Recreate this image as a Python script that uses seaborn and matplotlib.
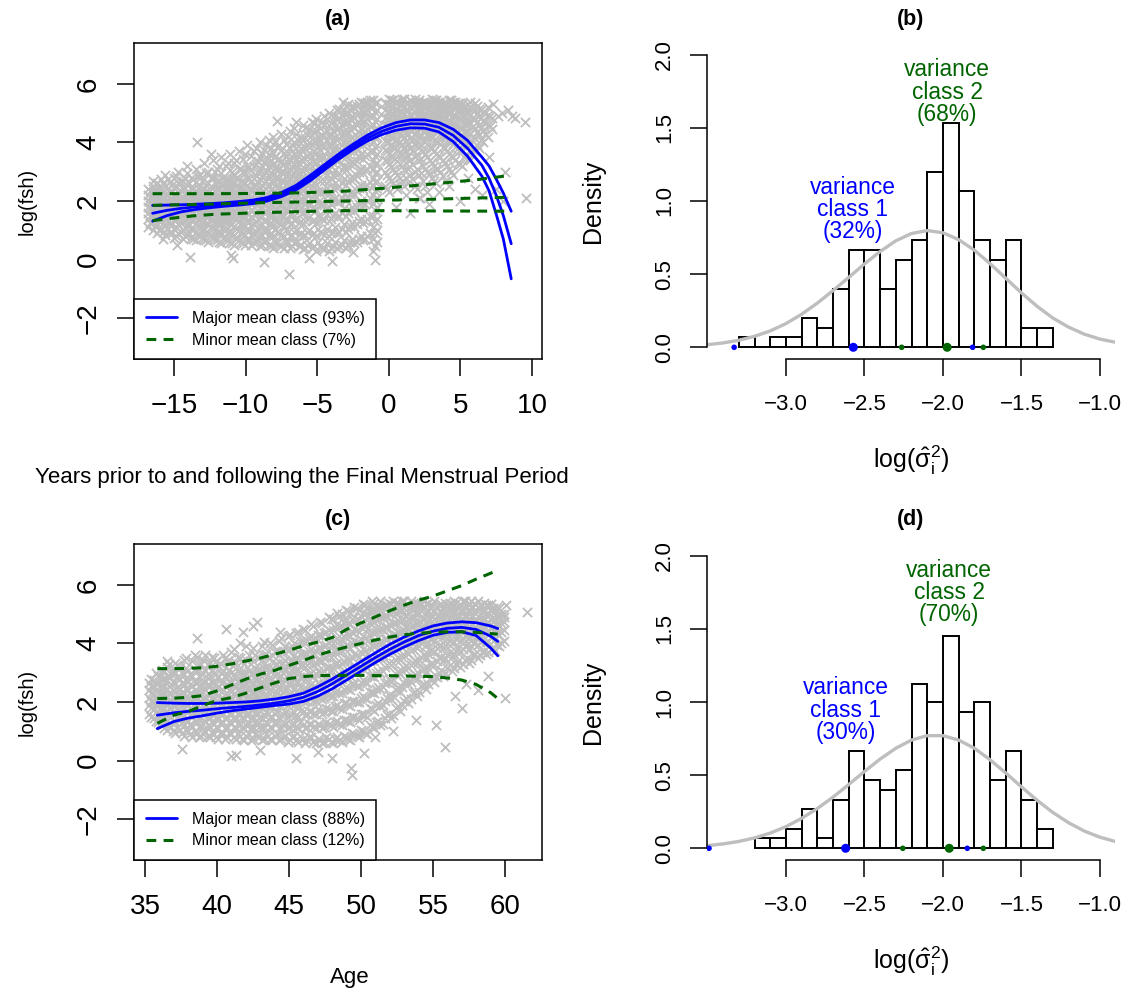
import numpy as np
import pandas as pd
import matplotlib
matplotlib.use("Agg")
import matplotlib.pyplot as plt
import seaborn as sns

# ------------------------------------------------------------------ data
# Panel (a): scatter cloud (x = years from FMP; y values read per x column)
cloud_a_txt = """
-16.8: 1.1 1.4 1.6 1.8 2.0 2.2 2.4
-16.5: 1.0 1.3 1.5 1.7 1.9 2.1 2.3 2.5
-16.2: 0.9 1.2 1.45 1.65 1.85 2.05 2.3 2.6
-15.9: 1.05 1.3 1.55 1.75 1.95 2.15 2.4 2.75
-15.6: 0.85 1.15 1.4 1.6 1.8 2.0 2.25 2.5 2.9
-15.3: 0.95 1.25 1.5 1.7 1.9 2.1 2.35 2.65
-15.0: 0.75 1.05 1.35 1.6 1.8 2.0 2.2 2.45 2.8
-14.7: 0.9 1.2 1.45 1.65 1.85 2.05 2.3 2.6 3.0
-14.4: 0.7 1.0 1.3 1.55 1.75 1.95 2.15 2.4 2.7
-14.1: 0.85 1.15 1.4 1.6 1.8 2.0 2.25 2.55 2.95 3.2
-13.8: 0.75 1.05 1.35 1.6 1.8 2.0 2.2 2.45 2.8
-13.5: 0.65 0.95 1.25 1.5 1.7 1.9 2.1 2.35 2.65 3.1
-13.2: 0.8 1.1 1.4 1.65 1.85 2.05 2.25 2.5 2.9
-12.9: 0.7 1.0 1.3 1.55 1.75 1.95 2.15 2.4 2.75 3.3
-12.6: 0.6 0.9 1.2 1.45 1.7 1.9 2.1 2.35 2.6 3.0
-12.3: 0.75 1.05 1.35 1.6 1.8 2.0 2.2 2.45 2.8 3.4
-12.0: 0.65 0.95 1.25 1.5 1.75 1.95 2.15 2.4 2.7 3.1
-11.7: 0.55 0.9 1.2 1.45 1.7 1.9 2.1 2.35 2.6 2.95 3.5
-11.4: 0.7 1.0 1.3 1.55 1.8 2.0 2.2 2.45 2.75 3.2
-11.1: 0.6 0.95 1.25 1.5 1.75 1.95 2.15 2.4 2.7 3.05 3.6
-10.8: 0.5 0.85 1.15 1.45 1.7 1.9 2.1 2.35 2.6 2.9 3.3
-10.5: 0.65 1.0 1.3 1.55 1.8 2.0 2.2 2.45 2.75 3.1 3.7
-10.2: 0.55 0.9 1.2 1.5 1.75 1.95 2.15 2.4 2.65 3.0 3.45
-9.9: 0.7 1.05 1.35 1.6 1.85 2.05 2.25 2.5 2.8 3.2 3.9
-9.6: 0.5 0.85 1.15 1.45 1.7 1.95 2.15 2.4 2.7 3.05 3.55
-9.3: 0.6 0.95 1.3 1.6 1.85 2.05 2.3 2.55 2.85 3.25 3.8
-9.0: 0.45 0.8 1.15 1.45 1.75 2.0 2.2 2.45 2.75 3.1 3.5 4.0
-8.7: 0.6 0.95 1.3 1.6 1.85 2.1 2.35 2.6 2.9 3.3 3.75
-8.4: 0.5 0.85 1.2 1.5 1.8 2.05 2.3 2.55 2.85 3.2 3.6 4.1
-8.1: 0.4 0.8 1.15 1.5 1.8 2.05 2.3 2.6 2.9 3.25 3.65 4.2
-7.8: 0.55 0.95 1.3 1.65 1.95 2.2 2.45 2.75 3.05 3.4 3.85
-7.5: 0.45 0.85 1.2 1.55 1.85 2.15 2.4 2.7 3.0 3.35 3.75 4.3
-7.2: 0.6 1.0 1.35 1.7 2.0 2.3 2.55 2.85 3.15 3.5 3.95
-6.9: 0.4 0.8 1.2 1.55 1.9 2.2 2.5 2.8 3.1 3.45 3.8 4.4
-6.6: 0.55 0.95 1.35 1.7 2.05 2.35 2.65 2.95 3.25 3.6 4.0 4.5
-6.3: 0.45 0.85 1.25 1.65 2.0 2.35 2.65 2.95 3.3 3.65 4.05
-6.0: 0.35 0.8 1.2 1.6 2.0 2.35 2.7 3.0 3.35 3.7 4.1 4.6
-5.7: 0.5 0.95 1.4 1.8 2.2 2.55 2.9 3.2 3.55 3.9 4.3
-5.4: 0.4 0.85 1.3 1.75 2.15 2.5 2.85 3.2 3.55 3.9 4.25 4.7
-5.1: 0.3 0.8 1.25 1.7 2.15 2.55 2.95 3.3 3.65 4.0 4.4 4.8
-4.8: 0.45 0.95 1.45 1.9 2.3 2.7 3.05 3.4 3.75 4.1 4.5
-4.5: 0.35 0.85 1.35 1.85 2.3 2.7 3.1 3.5 3.85 4.2 4.6 4.9
-4.2: 0.3 0.8 1.3 1.8 2.25 2.7 3.1 3.5 3.9 4.25 4.6 5.0
-3.9: 0.45 0.95 1.5 2.0 2.45 2.9 3.3 3.7 4.05 4.4 4.75
-3.6: 0.4 0.9 1.45 1.95 2.45 2.9 3.35 3.75 4.1 4.45 4.8 5.1
-3.3: 0.5 1.05 1.6 2.1 2.6 3.05 3.5 3.9 4.25 4.6 4.95
-3.0: 0.4 0.95 1.5 2.05 2.55 3.05 3.5 3.9 4.3 4.65 5.0 5.25
-2.7: 0.6 1.15 1.7 2.25 2.75 3.25 3.7 4.1 4.45 4.8 5.1
-2.4: 0.55 1.1 1.65 2.2 2.75 3.25 3.7 4.1 4.5 4.85 5.2
-2.1: 0.7 1.3 1.9 2.45 3.0 3.5 3.95 4.35 4.7 5.0 5.3
-1.8: 0.65 1.25 1.85 2.4 2.95 3.45 3.9 4.3 4.7 5.05 5.35
-1.5: 0.8 1.4 2.0 2.55 3.1 3.6 4.05 4.45 4.8 5.1 5.4
-1.1: 0.3 0.7 1.1 1.5 1.9 2.2 2.5 2.8 3.1 3.4 3.7 4.0 4.3 4.6 4.9 5.2 5.45
-0.95: 0.0 0.45 0.9 1.3 1.7 2.05 2.35 2.65 2.95 3.25 3.55 3.85 4.15 4.45 4.75 5.05 5.35
-0.8: 0.6 1.0 1.4 1.8 2.1 2.4 2.7 3.0 3.3 3.6 3.9 4.2 4.5 4.8 5.1 5.4
-0.3: 2.5 3.0 3.4 3.75 4.05 4.35 4.6 4.85 5.1 5.35
0.0: 2.3 2.8 3.25 3.65 4.0 4.3 4.55 4.8 5.05 5.3 5.5
0.3: 2.6 3.1 3.5 3.85 4.15 4.45 4.7 4.95 5.2 5.45
0.6: 2.4 2.9 3.35 3.75 4.1 4.4 4.65 4.9 5.15 5.4
0.9: 2.7 3.2 3.6 3.95 4.25 4.55 4.8 5.05 5.3 5.5
1.2: 2.2 2.8 3.3 3.7 4.05 4.35 4.6 4.85 5.1 5.35
1.5: 2.9 3.4 3.8 4.15 4.45 4.7 4.95 5.2 5.45
1.8: 2.5 3.0 3.5 3.9 4.25 4.55 4.8 5.05 5.3 5.5
2.1: 2.1 2.9 3.4 3.85 4.2 4.5 4.75 5.0 5.25 5.45
2.4: 2.7 3.2 3.7 4.1 4.4 4.7 4.95 5.2 5.4
2.7: 2.3 3.0 3.5 3.95 4.3 4.6 4.85 5.1 5.35
3.0: 2.8 3.3 3.8 4.2 4.5 4.8 5.05 5.3 5.5
3.3: 2.6 3.1 3.6 4.05 4.4 4.7 4.95 5.2 5.45
3.6: 3.0 3.5 3.95 4.3 4.6 4.9 5.15 5.4
3.9: 2.7 3.3 3.8 4.2 4.55 4.85 5.1 5.35
4.2: 3.1 3.6 4.05 4.4 4.7 5.0 5.25 5.45
4.5: 2.9 3.5 3.95 4.35 4.65 4.95 5.2 5.4
4.8: 3.3 3.8 4.2 4.55 4.85 5.1 5.35
5.1: 3.2 3.7 4.1 4.45 4.75 5.05 5.3
5.4: 3.6 4.05 4.4 4.7 5.0 5.25
5.7: 3.4 3.9 4.3 4.65 4.95 5.2 5.4
6.0: 3.7 4.15 4.5 4.8 5.1 5.35
6.3: 3.8 4.25 4.6 4.9 5.15
6.6: 4.0 4.4 4.75 5.05
6.9: 4.2 4.6 4.95 5.2
7.2: 4.45 4.85
"""
# second, staggered set of columns for panel (a)
cloud_a2_txt = """
-16.65: 1.25 1.5 1.75 1.95 2.15 2.35
-16.35: 1.15 1.4 1.6 1.8 2.0 2.2 2.45
-16.05: 1.0 1.35 1.55 1.75 1.95 2.2 2.45
-15.75: 0.95 1.25 1.5 1.7 1.9 2.1 2.35 2.6
-15.45: 1.05 1.3 1.55 1.75 1.95 2.2 2.45 2.75
-15.15: 0.9 1.2 1.45 1.65 1.85 2.05 2.3 2.55
-14.85: 0.8 1.1 1.4 1.6 1.8 2.0 2.2 2.5 2.85
-14.55: 0.95 1.25 1.5 1.7 1.9 2.1 2.35 2.65
-14.25: 0.8 1.1 1.35 1.6 1.8 2.0 2.2 2.45 2.8
-13.95: 0.9 1.2 1.45 1.65 1.85 2.05 2.3 2.6
-13.65: 0.7 1.0 1.3 1.55 1.75 1.95 2.15 2.4 2.75
-13.35: 0.85 1.15 1.4 1.6 1.8 2.0 2.2 2.45 2.85
-13.05: 0.75 1.05 1.35 1.6 1.8 2.0 2.2 2.45 2.7
-12.75: 0.65 0.95 1.25 1.5 1.7 1.9 2.1 2.3 2.55 2.95
-12.45: 0.8 1.1 1.4 1.65 1.85 2.05 2.25 2.5 2.8
-12.15: 0.7 1.0 1.3 1.55 1.75 1.95 2.15 2.35 2.6 3.0
-11.85: 0.6 0.95 1.25 1.5 1.75 1.95 2.15 2.4 2.7 3.2
-11.55: 0.75 1.05 1.35 1.6 1.85 2.05 2.25 2.5 2.8
-11.25: 0.65 0.95 1.3 1.55 1.8 2.0 2.2 2.45 2.75 3.3
-10.95: 0.55 0.9 1.2 1.5 1.75 1.95 2.15 2.4 2.65 3.0
-10.65: 0.7 1.05 1.35 1.6 1.85 2.05 2.25 2.5 2.8 3.4
-10.35: 0.6 0.95 1.25 1.55 1.8 2.0 2.2 2.45 2.7 3.1
-10.05: 0.5 0.85 1.15 1.45 1.7 1.9 2.1 2.35 2.6 2.95 3.6
-9.75: 0.65 1.0 1.3 1.55 1.8 2.0 2.2 2.45 2.75 3.15
-9.45: 0.55 0.9 1.25 1.55 1.8 2.0 2.25 2.5 2.8 3.2 3.7
-9.15: 0.7 1.05 1.4 1.65 1.9 2.1 2.35 2.6 2.95 3.35
-8.85: 0.5 0.85 1.2 1.5 1.8 2.05 2.3 2.55 2.85 3.2 3.65
-8.55: 0.65 1.0 1.35 1.65 1.9 2.15 2.4 2.7 3.0 3.4 3.9
-8.25: 0.45 0.9 1.25 1.6 1.9 2.15 2.4 2.7 3.0 3.4 3.8
-7.95: 0.6 1.0 1.35 1.7 2.0 2.25 2.5 2.8 3.1 3.5 4.0
-7.65: 0.5 0.9 1.25 1.6 1.9 2.2 2.5 2.8 3.1 3.45 3.9
-7.35: 0.4 0.8 1.15 1.5 1.8 2.1 2.4 2.7 3.0 3.3 3.65 4.1
-7.05: 0.55 0.95 1.35 1.7 2.05 2.35 2.65 2.95 3.3 3.65 4.2
-6.75: 0.45 0.85 1.25 1.6 1.95 2.25 2.55 2.85 3.15 3.5 3.9
-6.45: 0.6 1.0 1.4 1.8 2.15 2.5 2.8 3.1 3.45 3.8 4.3
-6.15: 0.5 0.9 1.3 1.75 2.1 2.45 2.8 3.1 3.45 3.8 4.2
-5.85: 0.4 0.85 1.3 1.7 2.1 2.45 2.8 3.1 3.45 3.8 4.15 4.5
-5.55: 0.55 1.0 1.45 1.85 2.25 2.6 2.95 3.3 3.65 4.0 4.45
-5.25: 0.45 0.9 1.35 1.8 2.25 2.65 3.0 3.35 3.7 4.05 4.35 4.65
-4.95: 0.6 1.05 1.5 1.95 2.35 2.75 3.15 3.5 3.85 4.2 4.6
-4.65: 0.4 0.9 1.4 1.9 2.35 2.75 3.15 3.55 3.9 4.25 4.7
-4.35: 0.55 1.05 1.55 2.0 2.45 2.9 3.3 3.7 4.05 4.4 4.8
-4.05: 0.4 0.9 1.4 1.9 2.35 2.8 3.2 3.6 3.95 4.3 4.65 4.95
-3.75: 0.6 1.1 1.6 2.1 2.6 3.05 3.45 3.85 4.2 4.55 4.9
-3.45: 0.45 0.95 1.5 2.0 2.5 2.95 3.4 3.8 4.15 4.5 4.85 5.15
-3.15: 0.65 1.2 1.75 2.25 2.75 3.2 3.65 4.05 4.4 4.75 5.1
-2.85: 0.5 1.05 1.6 2.15 2.65 3.15 3.6 4.0 4.35 4.7 5.0 5.3
-2.55: 0.7 1.25 1.8 2.35 2.85 3.35 3.8 4.2 4.55 4.9 5.25
-2.25: 0.6 1.2 1.8 2.35 2.85 3.35 3.8 4.2 4.6 4.95 5.25
-1.95: 0.8 1.4 2.0 2.55 3.1 3.6 4.05 4.45 4.8 5.1 5.4
-1.65: 0.7 1.3 1.9 2.5 3.05 3.55 4.0 4.4 4.75 5.05 5.35
-1.3: 0.9 1.5 2.1 2.65 3.2 3.7 4.15 4.55 4.9 5.2 5.45
-0.15: 2.4 2.9 3.35 3.7 4.0 4.3 4.55 4.8 5.05 5.3
0.15: 2.7 3.15 3.55 3.9 4.2 4.45 4.7 4.95 5.2 5.45
0.45: 2.5 3.0 3.45 3.8 4.1 4.4 4.65 4.9 5.15 5.4
0.75: 2.8 3.25 3.65 4.0 4.3 4.55 4.8 5.05 5.3
1.05: 2.5 3.05 3.5 3.85 4.2 4.5 4.75 5.0 5.25 5.5
1.35: 2.6 3.1 3.55 3.95 4.3 4.6 4.85 5.1 5.35
1.65: 2.75 3.25 3.7 4.05 4.4 4.65 4.9 5.15 5.4
1.95: 2.4 3.1 3.6 4.0 4.35 4.65 4.9 5.15 5.4
2.25: 2.95 3.45 3.9 4.25 4.55 4.85 5.1 5.35
2.55: 2.5 3.1 3.6 4.0 4.35 4.65 4.9 5.15 5.4
2.85: 2.95 3.4 3.85 4.25 4.55 4.85 5.1 5.35
3.15: 2.7 3.2 3.7 4.1 4.45 4.75 5.0 5.25 5.45
3.45: 3.1 3.55 4.0 4.35 4.65 4.95 5.2 5.4
3.75: 2.85 3.4 3.85 4.25 4.6 4.85 5.1 5.35
4.05: 3.2 3.7 4.1 4.45 4.75 5.05 5.3
4.35: 3.0 3.55 4.0 4.4 4.7 5.0 5.25 5.45
4.65: 3.4 3.85 4.25 4.6 4.9 5.15 5.4
4.95: 3.25 3.75 4.15 4.5 4.8 5.1 5.35
5.25: 3.5 3.95 4.35 4.65 4.95 5.2
5.55: 3.45 3.95 4.35 4.7 5.0 5.3
5.85: 3.75 4.2 4.55 4.85 5.15
6.15: 3.9 4.35 4.7 5.0 5.25
6.45: 4.1 4.5 4.85 5.1
6.75: 4.3 4.7 5.0
7.05: 4.55 4.9
"""
outlier_a_x = [-16.5, -15.8, -14.8, -13.4, -13.9, -12.4, -11.0, -10.9, -8.7, -7.8, -7.0,
               -6.5, -5.6, -4.0, -3.2, -2.5, 0.5, 1.5, 2.2, 2.8, 3.5, 4.2, 5.0, 5.5, 6.0,
               6.5, 7.0, 7.3, 7.6, 7.9, 8.1, 8.3, 8.6, 8.8, 9.5, 9.6, 8.0, 7.5]
outlier_a_y = [2.7, 0.7, 0.5, 4.0, 0.07, 3.6, 0.15, 0.05, -0.1, 4.75, -0.5,
               4.7, 0.05, -0.05, 5.4, 0.25, 1.8, 1.6, 2.1, 1.9, 2.3, 2.5, 2.0, 2.8, 2.4,
               2.2, 3.5, 5.3, 4.9, 5.0, 3.0, 5.1, 4.9, 4.85, 4.7, 2.1, 2.0, 2.4]

# Panel (c): scatter cloud (x = age)
cloud_c_txt = """
35.3: 1.6 1.9 2.15 2.4 2.65
35.6: 1.45 1.75 2.0 2.25 2.5 2.75
35.9: 1.3 1.6 1.85 2.1 2.35 2.6 2.9
36.2: 1.2 1.5 1.75 2.0 2.25 2.5 2.8 3.1
36.5: 1.05 1.4 1.7 1.95 2.2 2.45 2.75 3.2
36.8: 1.15 1.5 1.8 2.05 2.3 2.6 2.95
37.1: 0.95 1.3 1.6 1.85 2.1 2.35 2.65 3.0 3.35
37.4: 1.05 1.4 1.7 1.95 2.2 2.45 2.8 3.2
37.7: 0.85 1.2 1.55 1.8 2.05 2.3 2.6 2.95 3.45
38.0: 1.0 1.35 1.65 1.9 2.15 2.4 2.7 3.1
38.3: 0.8 1.15 1.5 1.75 2.0 2.25 2.55 2.9 3.4
38.6: 0.95 1.3 1.6 1.85 2.1 2.35 2.65 3.05 3.55
38.9: 0.85 1.2 1.5 1.8 2.05 2.3 2.6 2.95 3.3
39.2: 1.0 1.35 1.65 1.9 2.15 2.4 2.7 3.1 3.6
39.5: 0.8 1.15 1.45 1.75 2.0 2.25 2.55 2.9 3.35
39.8: 0.9 1.25 1.55 1.85 2.1 2.35 2.65 3.0 3.5
40.1: 0.75 1.1 1.45 1.75 2.0 2.25 2.5 2.85 3.25
40.4: 0.95 1.3 1.6 1.9 2.15 2.4 2.7 3.05 3.6
40.7: 0.8 1.15 1.5 1.8 2.05 2.3 2.6 2.95 3.4
41.0: 0.9 1.25 1.55 1.85 2.1 2.35 2.65 3.0 3.7
41.3: 0.75 1.1 1.45 1.75 2.0 2.25 2.55 2.9 3.35
41.6: 0.85 1.2 1.55 1.85 2.1 2.35 2.65 3.0 3.5 4.0
41.9: 0.7 1.1 1.45 1.75 2.0 2.3 2.6 2.95 3.3
42.2: 0.9 1.25 1.6 1.9 2.15 2.4 2.7 3.05 3.6
42.5: 0.75 1.15 1.5 1.8 2.1 2.35 2.65 3.0 3.4 3.85
42.8: 0.85 1.2 1.55 1.85 2.15 2.45 2.75 3.1 3.55
43.1: 0.7 1.1 1.45 1.8 2.1 2.4 2.7 3.05 3.45 3.9
43.4: 0.9 1.3 1.65 1.95 2.25 2.55 2.85 3.2 3.65
43.7: 0.75 1.15 1.5 1.85 2.15 2.45 2.75 3.1 3.5 4.0
44.0: 0.85 1.25 1.6 1.95 2.25 2.55 2.9 3.25 3.7
44.3: 0.7 1.1 1.5 1.85 2.2 2.5 2.85 3.2 3.6 4.1
44.6: 0.8 1.2 1.6 1.95 2.3 2.65 3.0 3.35 3.75
44.9: 0.65 1.1 1.5 1.9 2.25 2.6 2.95 3.3 3.75 4.25
45.2: 0.8 1.2 1.6 2.0 2.35 2.7 3.05 3.45 3.9
45.5: 0.7 1.15 1.55 1.95 2.35 2.7 3.1 3.5 3.95 4.35
45.8: 0.85 1.3 1.7 2.1 2.5 2.85 3.25 3.65 4.1
46.1: 0.6 1.1 1.55 2.0 2.4 2.8 3.2 3.6 4.0 4.45
46.4: 0.8 1.25 1.7 2.15 2.55 2.95 3.35 3.75 4.2
46.7: 0.65 1.15 1.6 2.05 2.5 2.9 3.3 3.7 4.15 4.6
47.0: 0.75 1.25 1.75 2.2 2.65 3.05 3.45 3.85 4.3
47.3: 0.6 1.1 1.6 2.1 2.55 3.0 3.4 3.8 4.25 4.7
47.6: 0.8 1.3 1.8 2.3 2.75 3.15 3.55 3.95 4.4
47.9: 0.65 1.2 1.7 2.2 2.7 3.1 3.55 3.95 4.4 4.85
48.2: 0.75 1.3 1.85 2.35 2.85 3.3 3.7 4.1 4.55
48.5: 0.7 1.25 1.8 2.3 2.8 3.25 3.7 4.1 4.55 4.95
48.8: 0.85 1.4 1.95 2.45 2.95 3.4 3.85 4.25 4.7
49.1: 0.75 1.35 1.9 2.45 2.95 3.45 3.9 4.3 4.7 5.1
49.4: 0.95 1.5 2.05 2.6 3.1 3.55 4.0 4.4 4.85
49.7: 0.85 1.45 2.0 2.55 3.1 3.6 4.05 4.45 4.85 5.2
50.0: 1.05 1.6 2.15 2.7 3.2 3.7 4.15 4.55 4.95
50.3: 0.95 1.55 2.15 2.7 3.25 3.75 4.2 4.6 5.0 5.3
50.6: 1.2 1.8 2.35 2.9 3.4 3.85 4.3 4.7 5.1
50.9: 1.1 1.7 2.3 2.85 3.4 3.9 4.35 4.75 5.1 5.4
51.2: 1.35 1.95 2.5 3.05 3.55 4.0 4.45 4.85 5.2
51.5: 1.25 1.9 2.5 3.05 3.6 4.05 4.5 4.9 5.25
51.8: 1.55 2.15 2.7 3.25 3.7 4.15 4.55 4.95 5.3
52.1: 1.45 2.1 2.7 3.25 3.75 4.2 4.6 5.0 5.35
52.4: 1.8 2.4 2.95 3.45 3.9 4.3 4.7 5.05 5.4
52.7: 1.7 2.35 2.95 3.45 3.95 4.35 4.75 5.1
53.0: 2.05 2.65 3.15 3.6 4.05 4.45 4.85 5.2 5.45
53.3: 1.95 2.6 3.15 3.65 4.1 4.5 4.85 5.2
53.6: 2.3 2.85 3.35 3.8 4.2 4.6 4.95 5.3
53.9: 2.2 2.8 3.35 3.85 4.25 4.65 5.0 5.35
54.2: 2.55 3.1 3.55 4.0 4.4 4.75 5.1 5.4
54.5: 2.45 3.0 3.5 3.95 4.35 4.7 5.05 5.35
54.8: 2.8 3.3 3.75 4.15 4.5 4.85 5.2
55.1: 2.7 3.25 3.7 4.1 4.5 4.85 5.15 5.45
55.4: 3.0 3.5 3.9 4.3 4.65 4.95 5.3
55.7: 2.9 3.4 3.85 4.25 4.6 4.95 5.25
56.0: 3.15 3.6 4.0 4.35 4.7 5.0 5.3
56.3: 3.05 3.55 4.0 4.4 4.75 5.05 5.35
56.6: 3.3 3.75 4.15 4.5 4.8 5.1 5.4
56.9: 3.2 3.7 4.1 4.45 4.8 5.1 5.35
57.2: 3.45 3.9 4.25 4.6 4.9 5.2 5.45
57.5: 3.35 3.8 4.2 4.55 4.85 5.15 5.4
57.8: 3.6 4.0 4.35 4.65 4.95 5.25
58.1: 3.5 3.95 4.3 4.65 4.95 5.25 5.45
58.4: 3.7 4.1 4.45 4.75 5.05 5.3
58.7: 3.65 4.05 4.4 4.7 5.0 5.3
59.0: 3.8 4.2 4.5 4.8 5.1 5.35
59.3: 3.75 4.15 4.5 4.8 5.1
59.6: 3.9 4.3 4.6 4.9 5.2
59.9: 4.1 4.45 4.75 5.0
"""
# second, staggered set of columns for panel (c)
cloud_c2_txt = """
35.45: 1.5 1.8 2.05 2.3 2.55 2.8
35.75: 1.35 1.65 1.9 2.15 2.4 2.65 3.0
36.05: 1.25 1.55 1.8 2.05 2.3 2.55 2.85
36.35: 1.1 1.45 1.75 2.0 2.25 2.5 2.8 3.05
36.65: 1.2 1.55 1.8 2.05 2.3 2.55 2.9 3.3
36.95: 1.0 1.35 1.65 1.9 2.15 2.4 2.7 3.1
37.25: 1.1 1.45 1.75 2.0 2.25 2.5 2.85 3.25
37.55: 0.95 1.3 1.6 1.85 2.1 2.35 2.65 3.0
37.85: 1.05 1.4 1.7 1.95 2.2 2.45 2.75 3.15 3.5
38.15: 0.9 1.25 1.55 1.8 2.05 2.3 2.6 2.95
38.45: 1.0 1.35 1.65 1.9 2.15 2.4 2.7 3.1 3.6
38.75: 0.8 1.15 1.45 1.75 2.0 2.25 2.55 2.9 3.25
39.05: 0.9 1.25 1.55 1.85 2.1 2.35 2.65 3.0 3.45
39.35: 0.85 1.2 1.5 1.8 2.05 2.3 2.6 2.95 3.3
39.65: 0.95 1.3 1.6 1.9 2.15 2.4 2.7 3.05 3.55
39.95: 0.8 1.15 1.5 1.8 2.05 2.3 2.6 2.95 3.4
40.25: 0.9 1.25 1.55 1.85 2.1 2.35 2.65 3.0 3.3
40.55: 0.75 1.1 1.45 1.75 2.0 2.25 2.55 2.9 3.5
40.85: 0.95 1.3 1.6 1.9 2.15 2.4 2.7 3.1 3.45
41.15: 0.8 1.15 1.5 1.8 2.05 2.3 2.6 2.95 3.3 3.8
41.45: 0.9 1.25 1.6 1.9 2.15 2.4 2.7 3.05 3.55
41.75: 0.75 1.15 1.5 1.8 2.05 2.3 2.6 2.95 3.4
42.05: 0.85 1.2 1.55 1.85 2.1 2.35 2.65 3.0 3.45 3.9
42.35: 0.7 1.1 1.45 1.75 2.05 2.3 2.6 2.95 3.3
42.65: 0.9 1.3 1.65 1.95 2.25 2.5 2.8 3.15 3.6
42.95: 0.8 1.15 1.5 1.85 2.15 2.45 2.75 3.1 3.5
43.25: 0.75 1.15 1.55 1.9 2.2 2.5 2.8 3.15 3.6 4.05
43.55: 0.85 1.25 1.6 1.9 2.2 2.5 2.8 3.15 3.55
43.85: 0.7 1.1 1.5 1.85 2.2 2.5 2.8 3.15 3.6 3.95
44.15: 0.9 1.3 1.65 2.0 2.3 2.6 2.95 3.3 3.75
44.45: 0.75 1.15 1.55 1.9 2.25 2.6 2.9 3.3 3.7 4.2
44.75: 0.85 1.25 1.65 2.05 2.4 2.75 3.1 3.45 3.9
45.05: 0.7 1.15 1.55 1.95 2.3 2.65 3.0 3.4 3.85 4.3
45.35: 0.85 1.25 1.65 2.05 2.45 2.8 3.2 3.6 4.0
45.65: 0.65 1.1 1.5 1.9 2.3 2.7 3.1 3.5 3.9 4.4
45.95: 0.75 1.2 1.65 2.05 2.45 2.85 3.25 3.65 4.1 4.5
46.25: 0.7 1.15 1.6 2.05 2.45 2.85 3.25 3.65 4.1
46.55: 0.8 1.25 1.7 2.15 2.6 3.0 3.4 3.8 4.25 4.65
46.85: 0.6 1.1 1.6 2.05 2.5 2.95 3.35 3.75 4.2
47.15: 0.7 1.2 1.7 2.15 2.6 3.0 3.4 3.85 4.3 4.75
47.45: 0.65 1.15 1.65 2.15 2.6 3.05 3.5 3.9 4.35
47.75: 0.75 1.25 1.75 2.25 2.75 3.2 3.6 4.0 4.45 4.9
48.05: 0.6 1.15 1.7 2.2 2.7 3.15 3.6 4.0 4.45 4.85
48.35: 0.8 1.35 1.9 2.4 2.9 3.35 3.8 4.2 4.65 5.05
48.65: 0.65 1.2 1.75 2.3 2.8 3.3 3.75 4.15 4.6 5.0
48.95: 0.8 1.4 1.95 2.5 3.0 3.5 3.95 4.35 4.8 5.15
49.25: 0.7 1.3 1.85 2.4 2.9 3.4 3.85 4.25 4.65 5.05
49.55: 0.9 1.5 2.05 2.6 3.15 3.65 4.1 4.5 4.9 5.25
49.85: 0.8 1.4 2.0 2.55 3.05 3.55 4.0 4.4 4.8 5.15
50.15: 1.0 1.6 2.2 2.75 3.3 3.8 4.25 4.65 5.05 5.35
50.45: 0.9 1.5 2.1 2.65 3.15 3.65 4.1 4.5 4.9 5.25
50.75: 1.15 1.75 2.35 2.9 3.45 3.95 4.4 4.8 5.15 5.45
51.05: 1.3 1.9 2.45 3.0 3.5 3.95 4.4 4.8 5.15
51.35: 1.2 1.85 2.45 3.0 3.55 4.05 4.5 4.9 5.25 5.45
51.65: 1.45 2.05 2.65 3.2 3.7 4.15 4.55 4.95 5.3
51.95: 1.6 2.25 2.8 3.35 3.8 4.25 4.65 5.05 5.4
52.25: 1.55 2.2 2.8 3.35 3.85 4.3 4.7 5.1 5.45
52.55: 1.85 2.5 3.05 3.55 4.0 4.4 4.8 5.15 5.4
52.85: 1.9 2.5 3.05 3.55 4.0 4.4 4.8 5.15 5.45
53.15: 2.15 2.75 3.25 3.75 4.2 4.6 4.95 5.3
53.45: 2.1 2.7 3.25 3.75 4.15 4.55 4.9 5.25 5.45
53.75: 2.35 2.95 3.45 3.9 4.3 4.7 5.05 5.35
54.05: 2.35 2.95 3.45 3.9 4.3 4.7 5.05 5.35
54.35: 2.6 3.15 3.65 4.1 4.5 4.85 5.2 5.45
54.65: 2.6 3.15 3.65 4.05 4.45 4.8 5.15 5.4
54.95: 2.85 3.35 3.8 4.2 4.6 4.95 5.3
55.25: 2.85 3.4 3.85 4.25 4.6 4.95 5.25
55.55: 3.1 3.55 3.95 4.35 4.7 5.05 5.35
55.85: 3.0 3.5 3.95 4.35 4.7 5.05 5.4
56.15: 3.25 3.7 4.1 4.45 4.8 5.1 5.4
56.45: 3.15 3.65 4.05 4.45 4.8 5.15 5.45
56.75: 3.4 3.85 4.25 4.6 4.9 5.2
57.05: 3.3 3.8 4.2 4.55 4.85 5.15 5.45
57.35: 3.5 3.95 4.3 4.65 4.95 5.25
57.65: 3.45 3.9 4.3 4.65 4.95 5.25 5.45
57.95: 3.65 4.05 4.4 4.75 5.05 5.35
58.25: 3.6 4.05 4.4 4.7 5.0 5.3
58.55: 3.75 4.15 4.5 4.8 5.1 5.4
58.85: 3.7 4.1 4.45 4.75 5.05 5.3
59.15: 3.85 4.25 4.6 4.9 5.2
59.45: 3.95 4.35 4.65 4.95 5.25
59.75: 4.0 4.4 4.7 5.0
"""
outlier_c_x = [36.5, 38.6, 40.6, 41.8, 42.5, 42.8, 44.4, 37.6, 41.0, 41.3, 43.0, 45.5, 47.0,
               48.0, 49.3, 49.4, 50.2, 51.0, 52.2, 53.8, 55.2, 55.8, 56.5, 57.0, 57.3,
               58.1, 58.8, 60.0, 61.5, 60.1, 59.9]
outlier_c_y = [3.4, 4.2, 4.5, 4.4, 4.6, 4.75, 4.4, 0.4, 0.15, 0.2, 0.35, 0.1, 0.3,
               0.1, -0.25, -0.5, 0.25, 0.8, 1.0, 1.4, 1.2, 0.45, 2.2, 1.8, 2.6,
               2.4, 2.9, 2.15, 5.07, 5.3, 4.9]

# Panel (a) fitted curves
ka_x = [-16.5, -15.5, -14.5, -13.5, -12.5, -11.5, -10.5, -9.5, -8.5, -7.5, -6.5, -5.5,
        -4.5, -3.5, -2.5, -1.5, -0.5, 0.5, 1.5, 2.5, 3.5, 4.5, 5.5, 6.5, 7.0, 7.5, 8.0, 8.55]
major_a_mid = [1.58, 1.68, 1.75, 1.80, 1.84, 1.88, 1.92, 1.97, 2.06, 2.22, 2.45, 2.78,
               3.15, 3.52, 3.85, 4.15, 4.38, 4.55, 4.64, 4.63, 4.52, 4.24, 3.80, 3.22,
               2.78, 2.20, 1.50, 0.54]
major_a_up = [1.85, 1.86, 1.87, 1.89, 1.91, 1.94, 1.98, 2.03, 2.12, 2.29, 2.53, 2.87,
              3.24, 3.61, 3.94, 4.25, 4.50, 4.68, 4.77, 4.77, 4.68, 4.45, 4.07, 3.50,
              3.20, 2.75, 2.27, 1.65]
major_a_lo = [1.31, 1.50, 1.63, 1.71, 1.77, 1.82, 1.86, 1.91, 2.00, 2.15, 2.37, 2.69,
              3.06, 3.43, 3.76, 4.05, 4.27, 4.42, 4.50, 4.49, 4.36, 4.03, 3.53, 2.85,
              2.35, 1.55, 0.70, -0.66]
ga_x = [-16.5, -15.0, -13.5, -12.0, -9.0, -6.0, -3.0, 0.0, 3.0, 6.0, 8.55]
minor_a_up = [2.25, 2.25, 2.25, 2.25, 2.26, 2.28, 2.34, 2.45, 2.58, 2.72, 2.88]
minor_a_mid = [1.85, 1.87, 1.88, 1.90, 1.94, 1.97, 2.00, 2.03, 2.06, 2.10, 2.13]
minor_a_lo = [1.33, 1.42, 1.50, 1.55, 1.60, 1.64, 1.67, 1.67, 1.66, 1.655, 1.65]

# Panel (c) fitted curves
kc_x = [35.86, 37, 38, 39, 40, 41, 42, 43, 44, 45, 46, 47, 48, 49, 50, 51, 52, 53, 54,
        55, 56, 57, 58, 59, 59.5]
major_c_up = [1.98, 1.96, 1.95, 1.95, 1.96, 1.98, 2.00, 2.04, 2.10, 2.18, 2.30, 2.52,
              2.78, 3.08, 3.38, 3.68, 3.97, 4.22, 4.43, 4.60, 4.70, 4.74, 4.71, 4.60, 4.51]
major_c_mid = [1.55, 1.63, 1.68, 1.72, 1.77, 1.81, 1.85, 1.90, 1.96, 2.04, 2.16, 2.36,
               2.62, 2.92, 3.22, 3.52, 3.80, 4.05, 4.27, 4.42, 4.52, 4.55, 4.48, 4.25, 4.07]
major_c_lo = [1.09, 1.33, 1.45, 1.53, 1.62, 1.70, 1.76, 1.82, 1.88, 1.93, 2.02, 2.20,
              2.45, 2.75, 3.05, 3.35, 3.63, 3.88, 4.10, 4.28, 4.38, 4.40, 4.27, 3.85, 3.58]
minor_c_up = [3.14, 3.14, 3.15, 3.17, 3.22, 3.30, 3.40, 3.50, 3.63, 3.77, 3.92, 4.05,
              4.20, 4.48, 4.70, 4.91, 5.12, 5.31, 5.48, 5.62, 5.80, 5.98, 6.20, 6.40, 6.51]
minor_c_mid = [2.12, 2.13, 2.16, 2.22, 2.38, 2.58, 2.78, 2.95, 3.08, 3.25, 3.42, 3.60,
               3.75, 3.88, 4.00, 4.12, 4.22, 4.30, 4.35, 4.38, 4.40, 4.40, 4.38, 4.34, 4.32]
minor_c_lo = [1.27, 1.55, 1.67, 1.88, 2.05, 2.15, 2.30, 2.48, 2.65, 2.80, 2.87, 2.90,
              2.91, 2.91, 2.91, 2.90, 2.90, 2.89, 2.88, 2.87, 2.82, 2.75, 2.60, 2.32, 2.12]

# Panel (b) histogram of log(sigma_i^2)
hist_b_edges = [-3.3, -3.2, -3.1, -3.0, -2.9, -2.8, -2.7, -2.6, -2.5, -2.4, -2.3, -2.2,
                -2.1, -2.0, -1.9, -1.8, -1.7, -1.6, -1.5, -1.4, -1.3]
hist_b_dens = [0.067, 0.0, 0.067, 0.067, 0.2, 0.133, 0.4, 0.667, 0.667, 0.4, 0.6, 0.733,
               1.2, 1.533, 1.067, 0.733, 0.6, 0.733, 0.133, 0.133]
# Panel (d) histogram
hist_d_edges = [-3.2, -3.1, -3.0, -2.9, -2.8, -2.7, -2.6, -2.5, -2.4, -2.3, -2.2, -2.1,
                -2.0, -1.9, -1.8, -1.7, -1.6, -1.5, -1.4, -1.3]
hist_d_dens = [0.067, 0.067, 0.133, 0.267, 0.067, 0.333, 0.667, 0.467, 0.4, 0.533, 1.12,
               1.0, 1.45, 0.933, 1.0, 0.467, 0.667, 0.333, 0.133]

# grey density curves
curve_x = [-3.5, -3.4, -3.3, -3.2, -3.1, -3.0, -2.9, -2.8, -2.7, -2.6, -2.5, -2.4, -2.3,
           -2.2, -2.1, -2.0, -1.9, -1.8, -1.7, -1.6, -1.5, -1.4, -1.3, -1.2, -1.1, -1.0, -0.9]
curve_b_y = [0.018, 0.030, 0.048, 0.075, 0.112, 0.162, 0.226, 0.302, 0.388, 0.478, 0.570,
             0.655, 0.728, 0.778, 0.798, 0.783, 0.736, 0.664, 0.572, 0.472, 0.372, 0.280,
             0.200, 0.138, 0.090, 0.056, 0.034]
curve_d_y = [0.018, 0.030, 0.047, 0.071, 0.104, 0.148, 0.205, 0.272, 0.350, 0.436, 0.525,
             0.610, 0.684, 0.740, 0.770, 0.770, 0.740, 0.684, 0.605, 0.515, 0.420, 0.328,
             0.245, 0.175, 0.118, 0.076, 0.046]

# class means (large dots) and interval ends (small dots)
dots_b_x = [-3.33, -2.571, -1.811, -2.263, -1.973, -1.743]
dots_d_x = [-3.49, -2.62, -1.845, -2.256, -1.96, -1.743]
dots_class = ["c1", "c1", "c1", "c2", "c2", "c2"]
dots_kind = ["end", "mean", "end", "end", "mean", "end"]

ticks_a_x = [-15, -10, -5, 0, 5, 10]
ticks_c_x = [35, 40, 45, 50, 55, 60]
ticks_ac_y = [-2, 0, 2, 4, 6]
ticks_bd_x = [-3.0, -2.5, -2.0, -1.5, -1.0]
ticks_bd_y = [0.0, 0.5, 1.0, 1.5, 2.0]

# ------------------------------------------------------------------ style
sns.set_style("white")
plt.rcParams["font.family"] = ["Liberation Sans", "DejaVu Sans"]
plt.rcParams["mathtext.fontset"] = "custom"
plt.rcParams["mathtext.rm"] = "Liberation Sans"
plt.rcParams["mathtext.it"] = "Liberation Sans:italic"
plt.rcParams["axes.unicode_minus"] = True
for k in ["text.color", "axes.labelcolor", "xtick.color", "ytick.color", "axes.edgecolor"]:
    plt.rcParams[k] = "black"
plt.rcParams["xtick.bottom"] = True
plt.rcParams["ytick.left"] = True

BLUE = "#0000FF"
GREEN = "#006400"
GREY = "#BEBEBE"
W, H = 1132, 994
fig = plt.figure(figsize=(W / 100, H / 100), dpi=100)


def ax_at(x0, y0, x1, y1):
    return fig.add_axes([x0 / W, 1 - y1 / H, (x1 - x0) / W, (y1 - y0) / H])


ax_a = ax_at(134, 43, 542, 359)
ax_b = ax_at(707, 43, 1115, 359)
ax_c = ax_at(134, 544, 542, 860)
ax_d = ax_at(707, 544, 1115, 860)


def parse_cloud(*txts):
    xs, ys = [], []
    for txt in txts:
        for line in txt.strip().splitlines():
            k, v = line.split(":")
            for val in v.split():
                xs.append(float(k))
                ys.append(float(val))
    return pd.DataFrame({"x": xs, "y": ys})


def lab(v, dec=None):
    s = ("%.*f" % (dec, v)) if dec is not None else "%g" % v
    return s.replace("-", "\u2212")


def scatter_panel(ax, cloud_df, kx, majors, gx, minors, xlim, xticks,
                  title, legend_labels):
    sns.scatterplot(data=cloud_df, x="x", y="y", marker="x", color=GREY, s=44,
                    linewidth=1.3, ax=ax, zorder=1, legend=False)
    for yv in majors:
        sns.lineplot(x=kx, y=yv, color=BLUE, linewidth=2.0, ax=ax, sort=False,
                     estimator=None, zorder=3, legend=False)
    for yv in minors:
        sns.lineplot(x=gx, y=yv, color=GREEN, linewidth=2.2, ax=ax, sort=False,
                     estimator=None, zorder=3, legend=False)
        ax.lines[-1].set_dashes([3.2, 2.4])
    ax.set_xlim(*xlim)
    ax.set_ylim(-3.4, 7.4)
    ax.set_xticks(xticks)
    ax.set_xticklabels([lab(t) for t in xticks])
    ax.set_yticks(ticks_ac_y)
    ax.set_yticklabels([lab(t) for t in ticks_ac_y], rotation=90, va="center")
    ax.tick_params(axis="both", direction="out", length=12.2, width=1.1,
                   labelsize=20, color="black", labelcolor="black",
                   bottom=True, left=True)
    ax.tick_params(axis="x", pad=12)
    ax.tick_params(axis="y", pad=11)
    for sp in ax.spines.values():
        sp.set_visible(True)
        sp.set_color("black")
        sp.set_linewidth(1.1)
    ax.set_xlabel("")
    ax.set_ylabel("log(fsh)", fontsize=14.5)
    ax.yaxis.set_label_coords(-0.262, 0.5)
    ax.yaxis.label.set_va("center")
    ax.text(0.5, 1 + 24 / 316, title, transform=ax.transAxes, ha="center",
            va="center", fontsize=15.5, fontweight="bold")
    blue_line = ax.lines[0]
    green_line = ax.lines[len(majors)]
    leg = ax.legend([blue_line, green_line], legend_labels, loc="lower left",
                    bbox_to_anchor=(0, 0), borderaxespad=0, fontsize=11.5,
                    frameon=True, fancybox=False, edgecolor="black",
                    handlelength=2.0, handletextpad=0.9, labelspacing=0.42,
                    borderpad=0.72)
    leg.get_frame().set_linewidth(1.1)
    leg.get_frame().set_alpha(1)
    for t in leg.get_texts():
        t.set_color("black")


def hist_panel(ax, edges, dens, cy, dots_x, title, t1, t1_xy, t2, t2_xy):
    centers = [(edges[i] + edges[i + 1]) / 2 for i in range(len(dens))]
    sns.histplot(x=centers, weights=dens, bins=edges, stat="count", color="white",
                 edgecolor="black", linewidth=1.4, alpha=1, ax=ax, zorder=1)
    sns.lineplot(x=curve_x, y=cy, color=GREY, linewidth=2.4, ax=ax, sort=False,
                 estimator=None, zorder=2)
    dd = pd.DataFrame({"x": dots_x, "y": [0.0] * len(dots_x), "cls": dots_class,
                       "kind": dots_kind})
    sns.scatterplot(data=dd, x="x", y="y", hue="cls", size="kind",
                    palette={"c1": BLUE, "c2": GREEN},
                    sizes={"mean": 42, "end": 16}, linewidth=0, ax=ax, zorder=4,
                    legend=False, clip_on=True)
    ax.set_xlim(-3.503, -0.904)
    ax.set_ylim(-0.08, 2.08)
    ax.set_xticks(ticks_bd_x)
    ax.set_xticklabels([lab(t, 1) for t in ticks_bd_x])
    ax.set_yticks(ticks_bd_y)
    ax.set_yticklabels([lab(t, 1) for t in ticks_bd_y], rotation=90, va="center")
    ax.tick_params(axis="both", direction="out", length=12.2, width=1.1,
                   labelsize=16, color="black", labelcolor="black",
                   bottom=True, left=True)
    ax.tick_params(axis="x", pad=13)
    ax.tick_params(axis="y", pad=11)
    for k in ["top", "right"]:
        ax.spines[k].set_visible(False)
    for k in ["left", "bottom"]:
        ax.spines[k].set_visible(True)
        ax.spines[k].set_color("black")
        ax.spines[k].set_linewidth(1.1)
    ax.spines["left"].set_bounds(0.0, 2.0)
    ax.spines["bottom"].set_bounds(-3.0, -1.0)
    ax.set_ylabel("Density", fontsize=18)
    ax.yaxis.set_label_coords(-0.2806, 0.5)
    ax.yaxis.label.set_va("center")
    ax.set_xlabel(r"$\mathrm{log}(\hat{\mathrm{\sigma}}_{\mathrm{i}}^{2})$", fontsize=18)
    ax.xaxis.set_label_coords(0.5, -0.32)
    ax.xaxis.label.set_va("center")
    ax.text(0.5, 1 + 24 / 316, title, transform=ax.transAxes, ha="center",
            va="center", fontsize=15.5, fontweight="bold")
    ax.text(t1_xy[0], t1_xy[1], t1, color=BLUE, fontsize=16.4, ha="center",
            va="center", linespacing=0.95)
    ax.text(t2_xy[0], t2_xy[1], t2, color=GREEN, fontsize=16.4, ha="center",
            va="center", linespacing=0.95)


df_a = pd.concat([parse_cloud(cloud_a_txt, cloud_a2_txt),
                  pd.DataFrame({"x": outlier_a_x, "y": outlier_a_y})])
df_c = pd.concat([parse_cloud(cloud_c_txt, cloud_c2_txt),
                  pd.DataFrame({"x": outlier_c_x, "y": outlier_c_y})])

scatter_panel(ax_a, df_a, ka_x, [major_a_up, major_a_mid, major_a_lo], ga_x,
              [minor_a_up, minor_a_mid, minor_a_lo], (-17.8, 10.7), ticks_a_x, "(a)",
              ["Major mean class (93%)", "Minor mean class (7%)"])
scatter_panel(ax_c, df_c, kc_x, [major_c_up, major_c_mid, major_c_lo], kc_x,
              [minor_c_up, minor_c_mid, minor_c_lo], (34.24, 62.57), ticks_c_x, "(c)",
              ["Major mean class (88%)", "Minor mean class (12%)"])

hist_panel(ax_b, hist_b_edges, hist_b_dens, curve_b_y, dots_b_x, "(b)",
           "variance\nclass 1\n(32%)", (-2.573, 0.94),
           "variance\nclass 2\n(68%)", (-1.973, 1.745))
hist_panel(ax_d, hist_d_edges, hist_d_dens, curve_d_y, dots_d_x, "(d)",
           "variance\nclass 1\n(30%)", (-2.62, 0.945),
           "variance\nclass 2\n(70%)", (-1.96, 1.747))

fig.text(301.5 / W, 1 - 478 / H, "Years prior to and following the Final Menstrual Period",
         ha="center", va="center", fontsize=16)
fig.text(350 / W, 1 - 978 / H, "Age", ha="center", va="center", fontsize=16)

fig.savefig("out.png", dpi=100, facecolor="white")
